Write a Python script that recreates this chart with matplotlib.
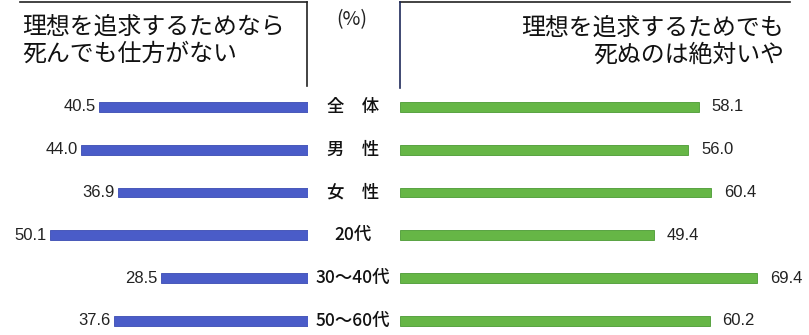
import matplotlib
matplotlib.use('Agg')
import matplotlib.pyplot as plt
import matplotlib.transforms as mtransforms
from matplotlib.lines import Line2D

# data
categories = ['全　体', '男　性', '女　性', '20代', '30～40代', '50～60代']
die_ok = [40.5, 44.0, 36.9, 50.1, 28.5, 37.6]      # 理想を追求するためなら死んでも仕方がない
never_die = [58.1, 56.0, 60.4, 49.4, 69.4, 60.2]   # 理想を追求するためでも死ぬのは絶対いや
title_left = '理想を追求するためなら\n死んでも仕方がない'
title_right = '理想を追求するためでも\n死ぬのは絶対いや'
unit = '(%)'

jp = ['Noto Sans CJK JP', 'DejaVu Sans']
num_font = ['Liberation Sans', 'DejaVu Sans']

W, H = 809, 335
fig = plt.figure(figsize=(W / 100, H / 100), dpi=100)

top = (H - 86) / H
ax_l = fig.add_axes([0, 0, 308 / W, top])
ax_r = fig.add_axes([400 / W, 0, 409 / W, top])

ypos = list(range(len(categories)))
blue = '#4a5cc8'
green = '#66b646'

ax_l.barh(ypos, die_ok, height=0.23, color=blue, edgecolor='#3a4bb2', linewidth=0.6)
ax_r.barh(ypos, never_die, height=0.23, color=green, edgecolor='#4b9a33', linewidth=0.6)

for ax in (ax_l, ax_r):
    ax.set_ylim(5.33, -0.49)
    ax.axis('off')
ax_l.set_xlim(59.8, 0)
ax_r.set_xlim(0, 79.4)

for y, v in zip(ypos, die_ok):
    ax_l.annotate(f'{v:.1f}', (v, y), xytext=(-2.5, 0), textcoords='offset points',
                  ha='right', va='center', fontsize=12, family=num_font, color='#222222')
for y, v in zip(ypos, never_die):
    ax_r.annotate(f'{v:.1f}', (v, y), xytext=(9, 0), textcoords='offset points',
                  ha='left', va='center', fontsize=12, family=num_font, color='#222222')

# category labels in the middle
trans = mtransforms.blended_transform_factory(fig.transFigure, ax_l.transData)
for y, c in zip(ypos, categories):
    fig.text(353 / W, y, c, transform=trans, ha='center', va='center',
             fontsize=12.5, family=jp, fontweight='medium', color='#111111')

# header boxes
fig.add_artist(Line2D([20 / W, 307 / W], [1 - 2 / H, 1 - 2 / H], color='#222222', lw=1.2))
fig.add_artist(Line2D([307 / W, 307 / W], [1 - 2 / H, 1 - 86 / H], color='#222222', lw=1.2))
fig.add_artist(Line2D([400 / W, 790 / W], [1 - 2 / H, 1 - 2 / H], color='#222222', lw=1.2))
fig.add_artist(Line2D([400 / W, 400 / W], [1 - 2 / H, 1 - 88 / H], color='#1f2a5a', lw=1.2))

fig.text(22 / W, 1 - 41 / H, title_left, ha='left', va='center', fontsize=17.2,
         family=jp, linespacing=1.2, color='#111111')
fig.text(784 / W, 1 - 42 / H, title_right, ha='right', va='center', fontsize=17.2,
         family=jp, linespacing=1.2, color='#111111', multialignment='right')
fig.text(352 / W, 1 - 20 / H, unit, ha='center', va='center', fontsize=14,
         family=jp, color='#222222')

fig.savefig('out.png', dpi=100)
